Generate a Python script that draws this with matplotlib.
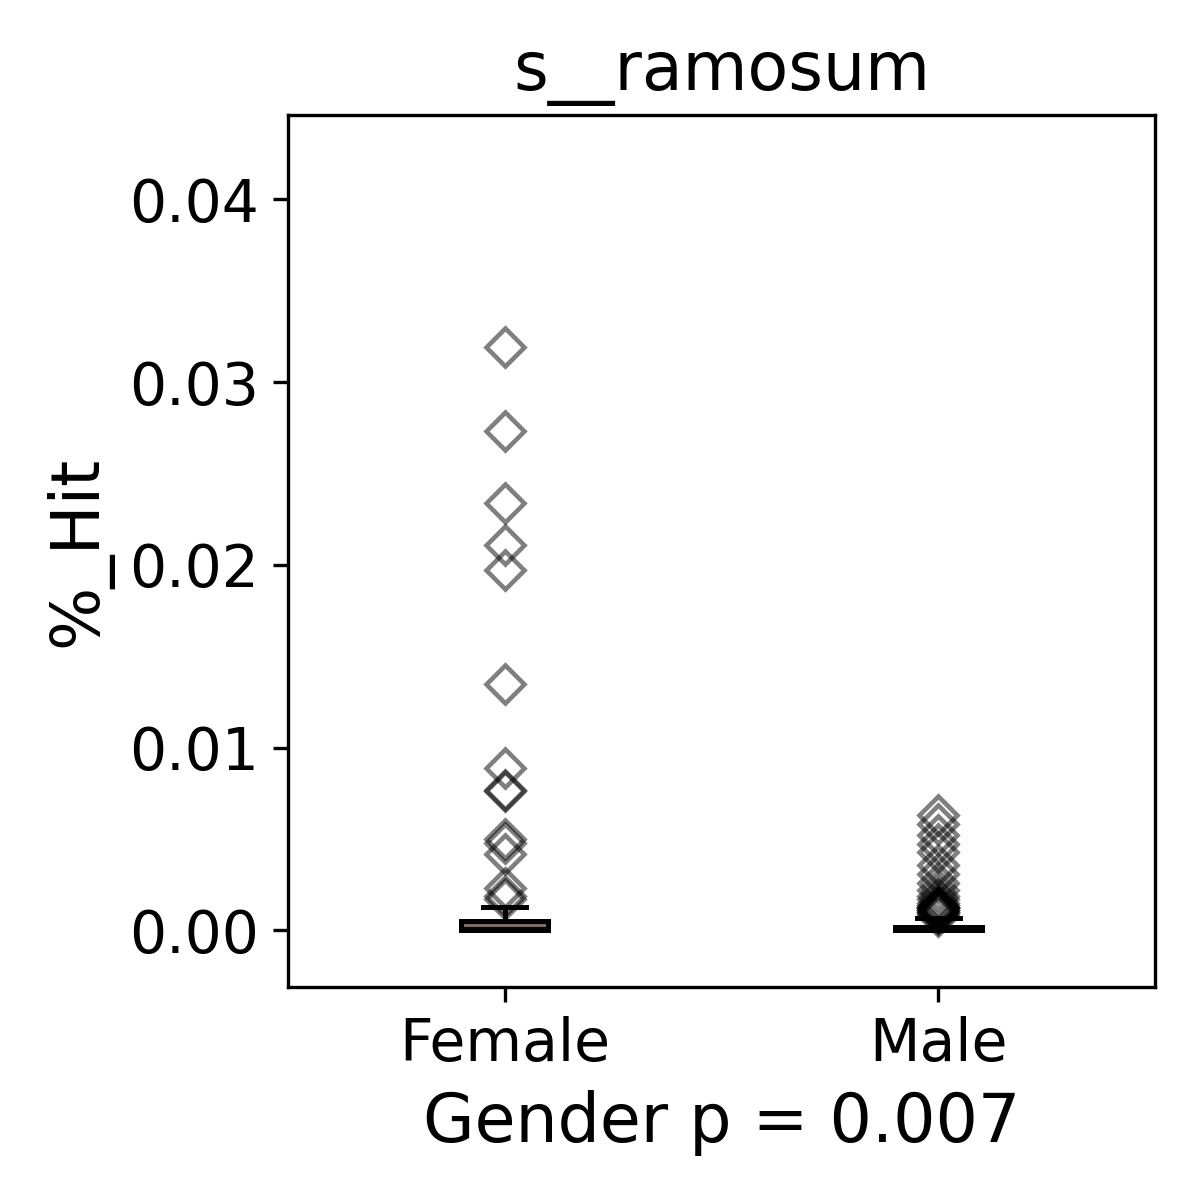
import matplotlib.pyplot as plt

groups = ['Female', 'Male']
q1 = [0.0000, 0.0000]
med = [0.0001, 0.0001]
q3 = [0.0005, 0.0002]
whislo = [0.0000, 0.0000]
whishi = [0.0013, 0.0007]
female_fliers = [0.0319, 0.0273, 0.0234, 0.0211, 0.0197, 0.0135, 0.0089,
                 0.0077, 0.0076, 0.0050, 0.0048, 0.0042, 0.0023, 0.0019, 0.0017]
male_fliers = [0.0063, 0.0058, 0.0052, 0.0047, 0.0043, 0.0036, 0.0031, 0.0026,
               0.0022, 0.0019, 0.0017, 0.0015, 0.0014, 0.0013, 0.0013, 0.0012,
               0.0012, 0.0011, 0.0011, 0.0010, 0.0010, 0.0009, 0.0008]
fliers = [female_fliers, male_fliers]

stats = []
for i, g in enumerate(groups):
    stats.append({'label': g, 'q1': q1[i], 'med': med[i], 'q3': q3[i],
                  'whislo': whislo[i], 'whishi': whishi[i], 'fliers': fliers[i]})

fig = plt.figure(figsize=(4, 4), dpi=300)
ax = fig.add_axes([0.24, 0.1775, 0.7225, 0.7265])

ax.bxp(stats, positions=[0, 1], widths=0.2, patch_artist=True,
       boxprops=dict(facecolor='#7d6b6b', edgecolor='black', linewidth=1.2),
       medianprops=dict(color='black', linewidth=1.2),
       whiskerprops=dict(color='black', linewidth=1.2),
       capprops=dict(color='black', linewidth=1.2),
       flierprops=dict(marker='D', markerfacecolor='none', markeredgecolor='black',
                       markersize=6.5, markeredgewidth=1.1, alpha=0.5))

ax.set_xlim(-0.5, 1.5)
ax.set_ylim(-0.0031, 0.0446)
ax.set_yticks([0.0, 0.01, 0.02, 0.03, 0.04])
ax.set_yticklabels(['0.00', '0.01', '0.02', '0.03', '0.04'])
ax.tick_params(axis='both', labelsize=14)
ax.set_title('s__ramosum', fontsize=16)
ax.set_xlabel('Gender p = 0.007', fontsize=16)
ax.set_ylabel('%_Hit', fontsize=16)

plt.savefig('out.png', dpi=300)
